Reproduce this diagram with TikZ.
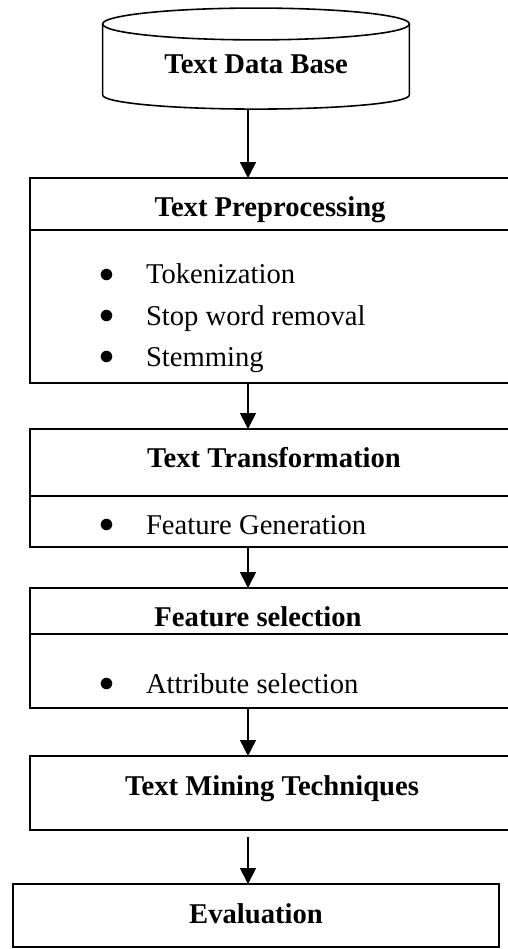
\documentclass[tikz,border=0pt]{standalone}
\usepackage{fontspec}
\setmainfont{Liberation Serif}
\usetikzlibrary{shapes.geometric, arrows.meta, positioning, calc}
\newcommand{\itm}[1]{\makebox[20.5pt][l]{\raisebox{0.6pt}{\scalebox{1.1}{$\bullet$}}}#1}

\begin{document}
\fontsize{12.6}{15}\selectfont
\begin{tikzpicture}[x=0.44pt, y=-0.44pt,
    box/.style={rectangle, draw, line width=0.9pt, minimum width=213pt, inner sep=0pt, outer sep=0pt},
    title/.style={anchor=base, font=\bfseries, inner sep=0pt},
    item/.style={anchor=base west, inner sep=0pt},
    sep/.style={line width=0.9pt},
    arrow/.style={-{Triangle[length=7pt, width=7pt]}, line width=0.7pt}]
    \useasboundingbox (0,0) rectangle (507,949);

    % Data base
    \node[rectangle, minimum width=135pt, minimum height=44.9pt, inner sep=0pt, outer sep=0pt] (db) at (256,59) {};
    \draw[line width=0.7pt] ($(db.north)+(0,16)$) ellipse [x radius=67.5pt, y radius=7pt];
    \draw[line width=0.7pt] (db.west |- 0,24) -- (db.west |- 0,95)
        arc [start angle=180, end angle=360, x radius=67.5pt, y radius=6.2pt]
        -- (db.east |- 0,24);
    \node[title] (dbname) at (256,74) {Text Data Base};

    % Boxes
    \node[box, minimum height=90.2pt] (prep) at (272,280.5) {};
    \node[box, minimum height=51.9pt] (trans) at (272,488) {};
    \node[box, minimum height=52.8pt] (feat) at (272,648) {};
    \node[box, minimum height=32.6pt] (mine) at (272,793) {};
    \node[box, minimum width=213.8pt, minimum height=27.7pt] (eval) at (256,915.5) {};

    % Separators
    \draw[sep] (prep.west |- 0,230) -- (prep.east |- 0,230);
    \draw[sep] (trans.west |- 0,496) -- (trans.east |- 0,496);
    \draw[sep] (feat.west |- 0,634) -- (feat.east |- 0,634);

    % Titles
    \node[title] (preptitle) at (270,217) {Text Preprocessing};
    \node[title] (transtitle) at (274,467) {Text Transformation};
    \node[title] (feattitle) at (258,626) {Feature selection};
    \node[title] (minetitle) at (272,795) {Text Mining Techniques};
    \node[title] (evaltitle) at (256,923) {Evaluation};

    % Items
    \node[item] (tok) at (99,284) {\itm{Tokenization}};
    \node[item] (stop) at (99,325) {\itm{Stop word removal}};
    \node[item] (stem) at (99,366) {\itm{Stemming}};
    \node[item] (gen) at (99,534) {\itm{Feature Generation}};
    \node[item] (attr) at (99,693) {\itm{Attribute selection}};

    % Arrows
    \coordinate (ax) at (248,0);
    \draw[arrow] (db.south -| ax) -- (prep.north -| ax);
    \draw[arrow] (prep.south -| ax) -- (trans.north -| ax);
    \draw[arrow] (trans.south -| ax) -- (feat.north -| ax);
    \draw[arrow] (feat.south -| ax) -- (mine.north -| ax);
    \draw[arrow, shorten <=3pt] (mine.south -| ax) -- (eval.north -| ax);
\end{tikzpicture}
\end{document}
